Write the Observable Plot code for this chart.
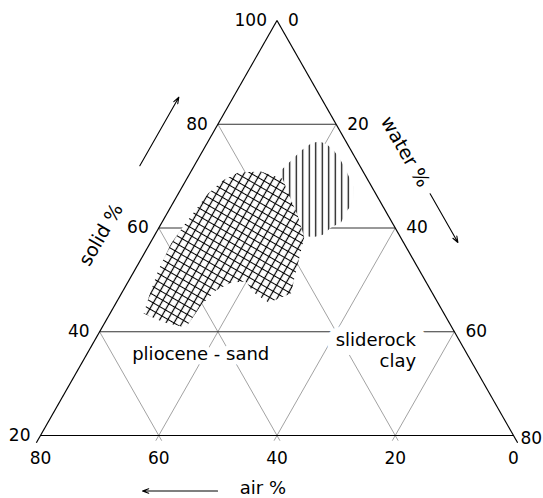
<!DOCTYPE html>
<html><head><meta charset="utf-8">
<script src="https://cdn.jsdelivr.net/npm/d3@7"></script>
<script src="https://cdn.jsdelivr.net/npm/@observablehq/plot@0.6"></script>
<style>
html,body{margin:0;padding:0;background:#fff;}
</style>
</head><body><div id="chart"></div>
<script>
// ---- data (ternary: solid %, water %, air % ; they sum to 100) ----
const solidTicks = [100, 80, 60, 40, 20];
const waterTicks = [0, 20, 40, 60, 80];
const airTicks = [80, 60, 40, 20, 0];
const gridLevels = [20, 40, 60];
const horizontalLevels = [80, 60, 40];

// pliocene-sand field outline [solid, water, air]
const pliocene = [
  [70.7, 8.1, 21.2], [70.9, 11.8, 17.3], [69.5, 16.2, 14.3], [66.3, 18.9, 14.8],
  [62.4, 22.3, 15.3], [58.2, 25.5, 16.3], [54.1, 26.7, 19.2], [49.9, 27.9, 22.2],
  [47.4, 28.7, 23.9], [45.6, 25.8, 28.6], [47.6, 22.2, 30.2], [49.7, 19.9, 30.4],
  [49.5, 17.5, 33.0], [48.0, 15.7, 36.3], [45.1, 14.6, 40.3], [40.8, 14.2, 45.0],
  [41.8, 10.0, 48.2], [43.5, 5.7, 50.8], [47.0, 4.9, 48.1], [51.8, 4.0, 44.2],
  [57.0, 3.6, 39.4], [60.5, 4.0, 35.5], [66.6, 5.0, 28.4], [69.2, 6.3, 24.5]
];
// sliderock clay field outline [solid, water, air]
const sliderock = [
  [71.1, 15.1, 13.8], [73.0, 15.9, 11.1], [74.9, 16.6, 8.5], [76.3, 17.6, 6.1],
  [76.7, 18.8, 4.5], [76.1, 20.4, 3.5], [74.9, 22.2, 2.9], [73.0, 24.3, 2.7],
  [70.7, 26.5, 2.8], [68.0, 28.9, 3.1], [64.7, 30.5, 4.8], [63.4, 30.2, 6.4],
  [61.1, 30.3, 8.6], [60.1, 29.1, 10.8], [58.7, 28.4, 12.9], [58.2, 27.0, 14.8],
  [58.6, 24.8, 16.6], [62.4, 21.5, 16.1], [65.3, 18.9, 15.8], [68.2, 16.4, 15.4]
];
const regionNames = ["pliocene - sand", "sliderock", "clay"];
const regionAnchors = [[35.6, 19.3], [38.4, 54.3], [34.35, 56.35]]; // [solid, water]
const axisNames = ["solid %", "water %", "air %"];

// ---- ternary -> cartesian (then through Plot scales) ----
const R3 = Math.sqrt(3) / 2;
const X = (s, w) => w + s / 2;
const Y = s => s * R3;

const frame = [
  {s1: 100, w1: 0, s2: 18.6, w2: 0},
  {s1: 100, w1: 0, s2: 18.6, w2: 81.4},
  {s1: 20, w1: 0, s2: 20, w2: 80}
];
const hGrid = horizontalLevels.map(s => ({s1: s, w1: 0, s2: s, w2: 100 - s}));
const dGrid = [
  ...gridLevels.map(w => ({s1: 100 - w, w1: w, s2: 19, w2: w})),
  ...gridLevels.map(a => ({s1: 100 - a, w1: 0, s2: 19, w2: 81 - a}))
];
const seg = {x1: d => X(d.s1, d.w1), y1: d => Y(d.s1), x2: d => X(d.s2, d.w2), y2: d => Y(d.s2)};

const solidLabels = solidTicks.map(s => ({s, w: 0, t: String(s)}));
const waterLabels = waterTicks.map(w => ({s: 100 - w, w, t: String(w)}));
const airLabels = airTicks.map(a => ({s: 20, w: 80 - a, t: String(a)}));

const regionText = regionNames.map((t, i) => ({t, s: regionAnchors[i][0], w: regionAnchors[i][1]}));

const arrows = [
  {s1: 72.0, w1: -9.2, s2: 85.2, w2: -9.2},
  {s1: 66.6, w1: 42.6, s2: 57.2, w2: 52.0},
  {s1: 9.3, w1: 35.3, s2: 9.3, w2: 22.6}
];

const P = d => X(d[0], d[1]);
const Q = d => Y(d[0]);
const TX = d => X(d.s, d.w);
const TY = d => Y(d.s);
const font = "DejaVu Sans";
const halo = {fill: "black", stroke: "white", paintOrder: "stroke", fontSize: 18, fontFamily: font};

const svg = Plot.plot({
  width: 543, height: 498,
  marginLeft: 40, marginRight: 30, marginTop: 20, marginBottom: 63,
  x: {domain: [10, 90], axis: null},
  y: {domain: [Y(20), Y(100)], axis: null},
  style: {background: "white", fontFamily: font, color: "black"},
  marks: [
    Plot.link(dGrid, {...seg, stroke: "#8a8a8a", strokeWidth: 0.8}),
    Plot.link(hGrid, {...seg, stroke: "#333", strokeWidth: 1}),
    Plot.link(frame, {...seg, stroke: "black", strokeWidth: 1.2}),
    Plot.line(sliderock, {x: P, y: Q, fill: "url(#vhatch)", stroke: "none"}),
    Plot.line(pliocene, {x: P, y: Q, fill: "url(#crosshatch)", stroke: "none"}),
    Plot.text(regionText.slice(0, 1), {x: TX, y: TY, text: "t", ...halo, strokeWidth: 10, textAnchor: "middle"}),
    Plot.text(regionText.slice(1, 2), {x: TX, y: TY, text: "t", ...halo, strokeWidth: 18, textAnchor: "end"}),
    Plot.text(regionText.slice(2), {x: TX, y: TY, text: "t", ...halo, strokeWidth: 10, textAnchor: "end"}),
    Plot.text(solidLabels, {x: TX, y: TY, text: "t", fontSize: 17, fontFamily: font, textAnchor: "end", dx: -10}),
    Plot.text(waterLabels.slice(0, 4), {x: TX, y: TY, text: "t", fontSize: 17, fontFamily: font, textAnchor: "start", dx: 11}),
    Plot.text(waterLabels.slice(4), {x: TX, y: TY, text: "t", fontSize: 17, fontFamily: font, textAnchor: "start", dx: 7, dy: 3}),
    Plot.text(airLabels, {x: TX, y: TY, text: "t", fontSize: 17, fontFamily: font, textAnchor: "middle", dy: 23}),
    Plot.text([axisNames[0]], {x: () => X(58.7, -9.1), y: () => Y(58.7), text: d => d, fontSize: 19, fontFamily: font, rotate: -60}),
    Plot.text([axisNames[1]], {x: () => X(74.7, 34.3), y: () => Y(74.7), text: d => d, fontSize: 19, fontFamily: font, rotate: 60}),
    Plot.text([axisNames[2]], {x: () => X(9.8, 38.8), y: () => Y(9.8), text: d => d, fontSize: 18, fontFamily: font, textAnchor: "start"}),
    Plot.arrow(arrows, {...seg, stroke: "black", strokeWidth: 1.1, headLength: 9, headAngle: 40})
  ]
});

const ns = "http://www.w3.org/2000/svg";
const defs = document.createElementNS(ns, "defs");
defs.innerHTML =
  '<pattern id="crosshatch" patternUnits="userSpaceOnUse" width="7" height="7" patternTransform="rotate(30)">' +
  '<rect width="7" height="7" fill="white"/>' +
  '<path d="M0,3.5H7M3.5,0V7" stroke="black" stroke-width="1.2" fill="none"/></pattern>' +
  '<pattern id="vhatch" patternUnits="userSpaceOnUse" width="6.5" height="10">' +
  '<rect width="6.5" height="10" fill="white"/>' +
  '<path d="M3.25,0V10" stroke="black" stroke-width="1.2" fill="none"/></pattern>';
svg.insertBefore(defs, svg.firstChild);
document.getElementById("chart").appendChild(svg);
</script>
</body></html>
